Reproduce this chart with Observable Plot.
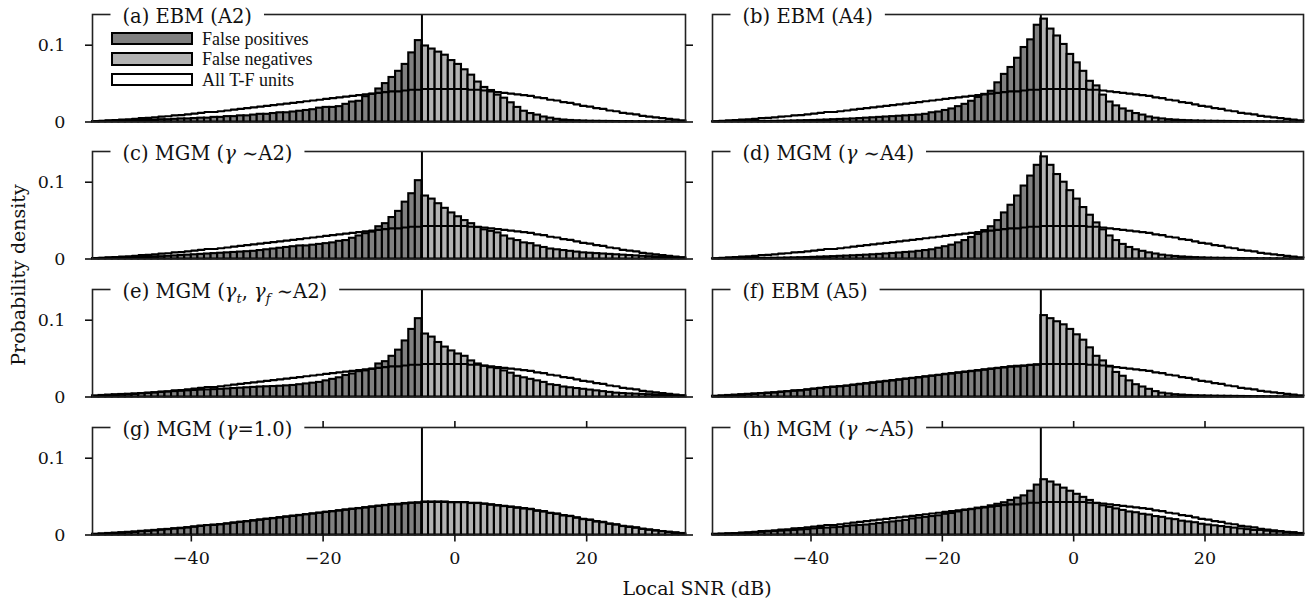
<!DOCTYPE html>
<html><head><meta charset="utf-8">
<script src="https://cdn.jsdelivr.net/npm/d3@7"></script>
<script src="https://cdn.jsdelivr.net/npm/@observablehq/plot@0.6"></script>
<style>
body{margin:0;background:#fff;}
#chart{position:relative;width:1314px;height:603px;overflow:hidden;background:#fff;font-family:"DejaVu Serif",serif;color:#111;}
#chart svg{position:absolute;overflow:visible;}
.lbl{position:absolute;font-size:19px;white-space:nowrap;line-height:1;}
.sw{position:absolute;box-sizing:border-box;border:2px solid #000;}
.lt{position:absolute;font-family:"Liberation Serif",serif;font-size:18px;line-height:1;white-space:nowrap;}
</style></head><body><div id="chart"></div>
<script>
// ---------- data ----------
const binStart = d3.range(-55, 35);           // 1 dB bins, left edges (-55 ... 34)
const lcThreshold = -5;                       // LC (dB): vertical line
const xTicks = [-40, -20, 0, 20];
const yTicks = [0, 0.1];
const titles = ["(a) EBM (A2)", "(b) EBM (A4)", "(c) MGM (γ ∼A2)", "(d) MGM (γ ∼A4)",
                "(e) MGM (γ_t, γ_f ∼A2)", "(f) EBM (A5)", "(g) MGM (γ=1.0)", "(h) MGM (γ ∼A5)"];
const legendLabels = ["False positives", "False negatives", "All T-F units"];

// all T-F units (same for every panel), 90 bins
const allTF = [0.001,0.0015,0.002,0.0025,0.003,0.0035,0.004,0.005,0.0055,0.006,
 0.007,0.0075,0.0085,0.009,0.010,0.011,0.012,0.013,0.013,0.014,
 0.015,0.016,0.017,0.018,0.019,0.020,0.021,0.022,0.023,0.024,
 0.025,0.026,0.027,0.028,0.029,0.030,0.031,0.032,0.033,0.034,
 0.035,0.036,0.037,0.038,0.039,0.040,0.040,0.041,0.042,0.042,
 0.043,0.043,0.043,0.043,0.043,0.043,0.043,0.042,0.042,0.041,
 0.040,0.039,0.038,0.037,0.036,0.035,0.034,0.032,0.031,0.029,
 0.028,0.026,0.025,0.023,0.021,0.020,0.018,0.017,0.015,0.014,
 0.012,0.011,0.010,0.008,0.007,0.006,0.005,0.004,0.003,0.002];

// false positives: bins -55..-6 (50) ; false negatives: bins -5..34 (40)
const ebmA2_fp = [0.0005,0.0007,0.001,0.001,0.0012,0.0015,0.0017,0.002,0.002,0.0025,
 0.003,0.003,0.0035,0.004,0.004,0.0045,0.005,0.005,0.006,0.006,
 0.007,0.007,0.008,0.008,0.009,0.010,0.010,0.011,0.012,0.012,
 0.013,0.014,0.015,0.016,0.018,0.019,0.019,0.020,0.023,0.026,
 0.027,0.033,0.036,0.043,0.050,0.058,0.066,0.075,0.090,0.106];
const ebmA2_fn = [0.099,0.095,0.091,0.087,0.080,0.075,0.068,0.061,0.052,0.045,
 0.041,0.035,0.031,0.025,0.019,0.014,0.011,0.009,0.0065,0.005,
 0.0035,0.0026,0.002,0.0016,0.0013,0.001,0.0009,0.0008,0.0007,0.0006,
 0.0005,0.0005,0.0004,0.0004,0.0003,0.0003,0.0003,0.0002,0.0002,0.0002];

const ebmA4_fp = [0.0003,0.0003,0.0004,0.0004,0.0005,0.0005,0.0006,0.0007,0.0008,0.0009,
 0.001,0.0012,0.0014,0.0016,0.0018,0.002,0.0023,0.0026,0.003,0.0033,
 0.0036,0.004,0.0045,0.005,0.0055,0.006,0.0065,0.007,0.0075,0.008,
 0.0085,0.009,0.010,0.012,0.013,0.015,0.017,0.020,0.023,0.027,
 0.032,0.036,0.040,0.051,0.062,0.071,0.083,0.097,0.107,0.126];
const ebmA4_fn = [0.134,0.121,0.112,0.101,0.088,0.077,0.066,0.053,0.047,0.035,
 0.026,0.021,0.017,0.014,0.011,0.009,0.0065,0.005,0.004,0.003,
 0.0025,0.002,0.0017,0.0014,0.0012,0.001,0.0009,0.0008,0.0007,0.0006,
 0.0005,0.0005,0.0004,0.0004,0.0003,0.0003,0.0003,0.0002,0.0002,0.0002];

const mgmA2_fp = [0.0006,0.0008,0.001,0.0012,0.0014,0.0016,0.0019,0.0022,0.0025,0.0028,
 0.003,0.0035,0.004,0.0045,0.005,0.0055,0.006,0.0065,0.007,0.0075,
 0.008,0.0085,0.009,0.0095,0.010,0.011,0.012,0.013,0.014,0.015,
 0.016,0.017,0.017,0.018,0.019,0.020,0.021,0.023,0.024,0.027,
 0.030,0.033,0.035,0.042,0.046,0.054,0.062,0.074,0.085,0.102];
const mgmA2_fn = [0.082,0.078,0.072,0.066,0.060,0.055,0.050,0.046,0.041,0.038,
 0.036,0.034,0.030,0.026,0.024,0.021,0.020,0.017,0.015,0.013,
 0.012,0.011,0.010,0.009,0.008,0.0075,0.007,0.0065,0.006,0.0055,
 0.005,0.0045,0.004,0.0035,0.003,0.0027,0.0024,0.002,0.0017,0.0015];

const mgmA4_fp = [0.0003,0.0003,0.0004,0.0005,0.0005,0.0006,0.0007,0.0008,0.0009,0.001,
 0.0011,0.0013,0.0015,0.0017,0.0019,0.0022,0.0025,0.0028,0.0031,0.0035,
 0.0038,0.0042,0.0046,0.005,0.0055,0.006,0.0066,0.0072,0.0078,0.0085,
 0.009,0.010,0.011,0.012,0.014,0.016,0.018,0.021,0.024,0.028,
 0.032,0.037,0.042,0.050,0.060,0.070,0.082,0.095,0.108,0.122];
const mgmA4_fn = [0.133,0.122,0.110,0.100,0.089,0.078,0.067,0.057,0.047,0.038,
 0.030,0.024,0.019,0.015,0.012,0.010,0.008,0.0065,0.005,0.004,
 0.0033,0.0027,0.0022,0.0018,0.0015,0.0012,0.001,0.0009,0.0008,0.0007,
 0.0006,0.0005,0.0005,0.0004,0.0004,0.0003,0.0003,0.0003,0.0002,0.0002];

const mgmTF_fp = [0.0015,0.002,0.0025,0.003,0.0033,0.0036,0.004,0.0045,0.005,0.0055,
 0.006,0.0065,0.007,0.0075,0.008,0.0085,0.009,0.0093,0.0096,0.010,
 0.0105,0.011,0.0115,0.012,0.0125,0.013,0.0133,0.0136,0.014,0.0145,
 0.015,0.016,0.017,0.018,0.019,0.021,0.023,0.025,0.028,0.030,
 0.033,0.034,0.036,0.043,0.046,0.053,0.061,0.073,0.088,0.102];
const mgmTF_fn = [0.082,0.078,0.071,0.065,0.060,0.056,0.053,0.047,0.043,0.040,
 0.038,0.037,0.034,0.031,0.027,0.025,0.023,0.021,0.019,0.016,
 0.015,0.013,0.012,0.011,0.010,0.009,0.008,0.007,0.006,0.005,
 0.0045,0.004,0.0037,0.0034,0.003,0.0027,0.0024,0.002,0.0017,0.0014];

const ebmA5_fp = [0.001,0.0015,0.002,0.0025,0.003,0.0035,0.004,0.0045,0.005,0.0055,
 0.006,0.007,0.0075,0.008,0.009,0.010,0.011,0.012,0.013,0.0135,
 0.014,0.015,0.016,0.017,0.018,0.019,0.020,0.021,0.022,0.023,
 0.024,0.025,0.026,0.027,0.028,0.029,0.030,0.031,0.032,0.033,
 0.034,0.035,0.036,0.037,0.038,0.039,0.040,0.040,0.041,0.042];
const ebmA5_fn = [0.106,0.102,0.098,0.094,0.088,0.081,0.074,0.064,0.053,0.047,
 0.040,0.032,0.027,0.021,0.016,0.013,0.010,0.007,0.005,0.004,
 0.003,0.0025,0.002,0.0017,0.0015,0.0013,0.0011,0.001,0.0009,0.0008,
 0.0007,0.0006,0.0005,0.0005,0.0004,0.0004,0.0003,0.0003,0.0002,0.0002];

const mgmG1_fp = [0.001,0.0015,0.002,0.0025,0.003,0.0035,0.004,0.0048,0.0053,0.006,
 0.0067,0.0073,0.008,0.0088,0.0095,0.0105,0.0115,0.0123,0.013,0.0135,
 0.0145,0.0155,0.0165,0.0175,0.0185,0.0195,0.0205,0.0215,0.0225,0.0235,
 0.0245,0.0255,0.0265,0.0275,0.0285,0.0295,0.0305,0.0315,0.0325,0.0335,
 0.0345,0.0355,0.0365,0.0375,0.0385,0.0395,0.040,0.041,0.0415,0.042];
const mgmG1_fn = [0.043,0.043,0.043,0.043,0.042,0.042,0.042,0.041,0.041,0.040,
 0.039,0.038,0.037,0.036,0.035,0.034,0.033,0.031,0.030,0.028,
 0.027,0.025,0.024,0.022,0.020,0.019,0.017,0.016,0.014,0.013,
 0.011,0.010,0.009,0.0075,0.0065,0.0055,0.0045,0.0035,0.0028,0.002];

const mgmA5_fp = [0.001,0.0012,0.0014,0.0017,0.002,0.0025,0.003,0.0035,0.004,0.0045,
 0.005,0.0055,0.006,0.0065,0.007,0.008,0.0085,0.009,0.0095,0.010,
 0.011,0.012,0.0125,0.013,0.014,0.015,0.016,0.017,0.018,0.019,
 0.021,0.022,0.023,0.024,0.025,0.027,0.028,0.030,0.032,0.033,
 0.035,0.036,0.038,0.040,0.042,0.045,0.048,0.051,0.057,0.065];
const mgmA5_fn = [0.072,0.069,0.065,0.061,0.057,0.053,0.049,0.045,0.041,0.038,
 0.036,0.034,0.032,0.030,0.029,0.027,0.026,0.024,0.023,0.021,
 0.020,0.018,0.017,0.016,0.014,0.013,0.012,0.011,0.010,0.009,
 0.008,0.007,0.006,0.006,0.005,0.004,0.004,0.003,0.003,0.002];

const seriesFP = [ebmA2_fp, ebmA4_fp, mgmA2_fp, mgmA4_fp, mgmTF_fp, ebmA5_fp, mgmG1_fp, mgmA5_fp];
const seriesFN = [ebmA2_fn, ebmA4_fn, mgmA2_fn, mgmA4_fn, mgmTF_fn, ebmA5_fn, mgmG1_fn, mgmA5_fn];

// ---------- styling / layout ----------
const FP_COLOR = "#808080", FN_COLOR = "#b3b3b3";
const COL_X = [92, 712], COL_W = [593, 591];
const ROW_TOP0 = 13.5, ROW_STEP = 137.8, PANEL_H = 107.5;
const chart = document.getElementById("chart");
const svgNS = "http://www.w3.org/2000/svg";

function fillTitle(textEl, s) {
  textEl.textContent = "";
  const parts = s.split(/(γ|_[a-z])/).filter(p => p !== "");
  let shifted = false;
  for (const p of parts) {
    const t = document.createElementNS(svgNS, "tspan");
    if (p === "γ") {
      t.setAttribute("font-style", "italic"); t.textContent = "γ";
      if (shifted) { t.setAttribute("dy", "-5"); shifted = false; }
    } else if (p[0] === "_") {
      t.setAttribute("font-style", "italic"); t.setAttribute("font-size", "13px");
      t.setAttribute("dy", "5"); t.textContent = p[1]; shifted = true;
    } else {
      t.textContent = p;
      if (shifted) { t.setAttribute("dy", "-5"); shifted = false; }
    }
    textEl.appendChild(t);
  }
}

titles.forEach((title, i) => {
  const col = i % 2, row = Math.floor(i / 2);
  const bottom = row === 3;
  const mL = col === 0 ? 92 : 20, mR = col === 0 ? 15 : 11;
  const mT = 20, mB = bottom ? 45 : 10;
  const bars = binStart.map((x0, k) => ({
    x0, x1: x0 + 1, y0: 0,
    v: x0 < lcThreshold ? seriesFP[i][k] : seriesFN[i][k - seriesFP[i].length],
    kind: x0 < lcThreshold ? "fp" : "fn"
  }));
  const tf = binStart.map((x, k) => ({x, v: allTF[k]}));
  tf.push({x: 35, v: allTF[allTF.length - 1]});
  const marks = [
    Plot.rect(bars, {x1: "x0", x2: "x1", y1: "y0", y2: "v", fill: "kind", stroke: "black", strokeWidth: 2.1}),
    Plot.line(tf, {x: "x", y: "v", curve: "step-after", stroke: "black", strokeWidth: 2.2}),
    Plot.ruleX([lcThreshold], {stroke: "black", strokeWidth: 2}),
    Plot.frame({stroke: "#222", strokeWidth: 1.6})
  ];
  if (col === 0) {
    marks.push(Plot.axisY(yTicks, {anchor: "left", tickSize: 7, tickPadding: 20, strokeWidth: 1.6,
      tickFormat: d => d === 0 ? "0" : "0.1", label: null}));
    marks.push(Plot.axisY(yTicks, {anchor: "right", tickSize: 7, strokeWidth: 1.6, tickFormat: () => "", label: null}));
  }
  if (bottom) {
    marks.push(Plot.axisX(xTicks, {anchor: "bottom", tickSize: 7, tickPadding: 10, strokeWidth: 1.6,
      tickFormat: d => d < 0 ? "\u2212" + (-d) : String(d), label: null}));
    marks.push(Plot.axisX(xTicks, {anchor: "top", tickSize: 7, strokeWidth: 1.6, tickFormat: () => "", label: null}));
  }
  marks.push(Plot.text([title], {text: d => d, frameAnchor: "top-left", textAnchor: "start", lineAnchor: "middle",
    dx: 30, dy: 2, fontSize: 19.5, fill: "#111"}));
  const svg = Plot.plot({
    width: COL_W[col] + mL + mR,
    height: PANEL_H + mT + mB,
    marginLeft: mL, marginRight: mR, marginTop: mT, marginBottom: mB,
    x: {domain: [-55, 35], axis: bottom ? undefined : null},
    y: {domain: [0, 0.14], axis: col === 0 ? undefined : null},
    color: {domain: ["fp", "fn"], range: [FP_COLOR, FN_COLOR]},
    style: {background: "transparent", fontFamily: "'DejaVu Serif', serif", fontSize: "17.5px", color: "#111"},
    marks
  });
  svg.style.left = (COL_X[col] - mL) + "px";
  svg.style.top = (ROW_TOP0 + row * ROW_STEP - mT) + "px";
  svg.style.maxWidth = "none";
  chart.appendChild(svg);
  // title: white box breaking the top frame line, math-style tspans
  const te = Array.from(svg.querySelectorAll("text")).find(t => t.textContent === title);
  if (te) {
    const tg = te.parentNode;
    fillTitle(te, title);
    const bb = te.getBBox();
    const r = document.createElementNS(svgNS, "rect");
    r.setAttribute("x", bb.x - 12); r.setAttribute("y", bb.y);
    r.setAttribute("width", bb.width + 24); r.setAttribute("height", bb.height);
    r.setAttribute("fill", "white");
    if (te.getAttribute("transform")) r.setAttribute("transform", te.getAttribute("transform"));
    tg.insertBefore(r, te);
  }
});

// legend (panel a)
const legendColors = [FP_COLOR, FN_COLOR, "#ffffff"];
legendLabels.forEach((lab, k) => {
  const sw = document.createElement("div");
  sw.className = "sw";
  sw.style.left = "111px"; sw.style.top = (31.5 + k * 20.5) + "px";
  sw.style.width = "82px"; sw.style.height = "13.5px";
  sw.style.background = legendColors[k];
  chart.appendChild(sw);
  const t = document.createElement("div");
  t.className = "lt"; t.textContent = lab;
  t.style.left = "202px"; t.style.top = (29.5 + k * 20.5) + "px";
  chart.appendChild(t);
});

// axis labels
const yl = document.createElement("div");
yl.className = "lbl"; yl.textContent = "Probability density";
yl.style.left = "18px"; yl.style.top = "275px";
yl.style.transform = "translate(-50%,-50%) rotate(-90deg)";
chart.appendChild(yl);
const xl = document.createElement("div");
xl.className = "lbl"; xl.textContent = "Local SNR (dB)";
xl.style.left = "697px"; xl.style.top = "588px";
xl.style.transform = "translate(-50%,-50%)";
chart.appendChild(xl);
</script></body></html>
